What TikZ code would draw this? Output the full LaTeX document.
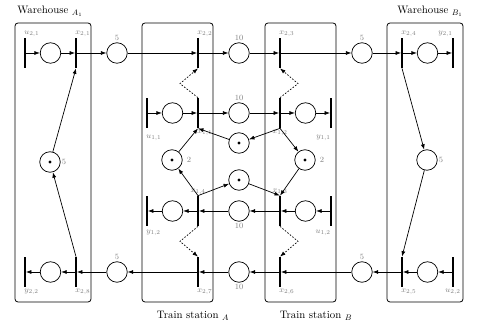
\documentclass[tikz,border=0pt]{standalone}
\usepackage{amssymb}
\usepackage{tikz}
\usetikzlibrary{arrows.meta}

\begin{document}
\begin{tikzpicture}[x=1pt, y=-1pt, node distance = 25.5pt, line width=0.7pt,
    >={Latex[length=5.5pt,width=4pt]},
    place/.style={circle, draw, minimum size=20.5pt, inner sep=0pt},
    marked/.style={path picture={\fill (path picture bounding box.center) circle (1.7pt);}},
    trans/.style={fill, minimum width=1.1pt, minimum height=30pt, inner sep=0pt},
    lab/.style={font=\footnotesize, text=gray, inner sep=1pt},
    ar/.style={lab, anchor=south west, xshift=-2pt},
    al/.style={lab, anchor=south east, xshift=1pt},
    br/.style={lab, anchor=north west, xshift=-2pt},
    bl/.style={lab, anchor=north east, xshift=1pt},
    title/.style={font=\fontsize{10.8pt}{13pt}\selectfont},
    box/.style={draw, rounded corners=3pt, line width=0.8pt},
    signal/.style={->, dash pattern=on 1.6pt off 1.6pt}]
\useasboundingbox (0,0) rectangle (490,328);

% the four sites
\draw[box] (15,23) rectangle (91,302);
\draw[box] (142,23) rectangle (213,302);
\draw[box] (265,23) rectangle (336,302);
\draw[box] (387,23) rectangle (463,302);
\node[title] (ta) at (50,11) {Warehouse $_{A_1}$};
\node[title] (tb) at (430,11) {Warehouse $_{B_1}$};
\node[title] (tsa) at (193,316) {Train station $_A$};
\node[title] (tsb) at (316,316) {Train station $_B$};

% upper track
\node[trans,label={[ar]north:$x_{2,1}$}] (x21) at (76,53) {};
\node[place] (pa1) [left of = x21] {};
\node[trans,label={[ar]north:$u_{2,1}$}] (u21) [left of = pa1] {};
\node[place,label={[lab]above:5}] (q1) at (117,53) {};
\node[trans,label={[ar]north:$x_{2,2}$}] (x22) at (198,53) {};
\node[place,label={[lab]above:10}] (q2) at (239,53) {};
\node[trans,label={[ar]north:$x_{2,3}$}] (x23) at (280,53) {};
\node[place,label={[lab]above:5}] (q3) at (362,53) {};
\node[trans,label={[ar]north:$x_{2,4}$}] (x24) at (402,53) {};
\node[place] (pb1) [right of = x24] {};
\node[trans,label={[al]north:$y_{2,1}$}] (y21) [right of = pb1] {};

% warehouse stocks
\node[place,marked,label={[lab]right:5}] (pa2) at (50,162) {};
\node[place,label={[lab]right:5}] (pb2) at (427,160) {};

% lower track
\node[trans,label={[br]south:$x_{2,8}$}] (x28) at (76,272) {};
\node[place] (pa3) [left of = x28] {};
\node[trans,label={[br]south:$y_{2,2}$}] (y22) [left of = pa3] {};
\node[place,label={[lab]above:5}] (q8) at (117,272) {};
\node[trans,label={[br]south:$x_{2,7}$}] (x27) at (198,272) {};
\node[place,label={[lab]below:10}] (q7) at (239,272) {};
\node[trans,label={[br]south:$x_{2,6}$}] (x26) at (280,272) {};
\node[place,label={[lab]above:5}] (q6) at (362,272) {};
\node[trans,label={[br]south:$x_{2,5}$}] (x25) at (402,272) {};
\node[place] (pb3) [right of = x25] {};
\node[trans,label={[lab]below:$u_{2,2}$}] (u22) [right of = pb3] {};

% line between the stations
\node[trans,label={[br]south:$x_{1,1}$}] (x11) at (198,113) {};
\node[place] (sa1) [left of = x11] {};
\node[trans,label={[br,yshift=-5pt]south:$u_{1,1}$}] (u11) [left of = sa1] {};
\node[place,label={[lab]above:10}] (r1) at (239,113) {};
\node[trans,label={[lab]below:$x_{1,2}$}] (x12) at (280,113) {};
\node[place] (sb1) [right of = x12] {};
\node[trans,label={[bl,yshift=-5pt]south:$y_{1,1}$}] (y11) [right of = sb1] {};

\node[place,marked,label={[lab,label distance=3pt]right:2}] (sa2) at (172,160) {};
\node[place,marked,label={[lab,label distance=3pt]right:2}] (sb2) at (305,160) {};
\node[place,marked] (m1) at (239,143) {};
\node[place,marked] (m2) at (239,180) {};

\node[trans,label={[lab]above:$x_{1,4}$}] (x14) at (198,211) {};
\node[place] (sa3) [left of = x14] {};
\node[trans,label={[br,yshift=-2pt]south:$y_{1,2}$}] (y12) [left of = sa3] {};
\node[place,label={[lab]below:10}] (r2) at (239,211) {};
\node[trans,label={[lab]above:$x_{1,3}$}] (x13) at (280,211) {};
\node[place] (sb3) [right of = x13] {};
\node[trans,label={[bl,yshift=-2pt]south:$u_{1,2}$}] (u12) [right of = sb3] {};

\path[->] (u21) edge (pa1) (pa1) edge (x21) (x21) edge (q1) (q1) edge (x22)
    (x22) edge (q2) (q2) edge (x23) (x23) edge (q3) (q3) edge (x24)
    (x24) edge (pb1) (pb1) edge (y21)
    (pa2) edge (x21.south) (x28.north) edge (pa2)
    (x24.south) edge (pb2) (pb2) edge (x25.north)
    (u22) edge (pb3) (pb3) edge (x25) (x25) edge (q6) (q6) edge (x26)
    (x26) edge (q7) (q7) edge (x27) (x27) edge (q8) (q8) edge (x28)
    (x28) edge (pa3) (pa3) edge (y22);

\path[->] (u11) edge (sa1) (sa1) edge (x11) (x11) edge (r1) (r1) edge (x12)
    (x12) edge (sb1) (sb1) edge (y11)
    (u12) edge (sb3) (sb3) edge (x13) (x13) edge (r2) (r2) edge (x14)
    (x14) edge (sa3) (sa3) edge (y12)
    (sa2) edge (x11.south) (m1) edge (x11.south)
    (x12.south) edge (m1) (x12.south) edge (sb2)
    (sb2) edge (x13.north) (m2) edge (x13.north)
    (x14.north) edge (sa2) (x14.north) edge (m2);

% hand-over to the long haul
\draw[signal] (x11.north) -- ++(-18,-14) -- (x22.south);
\draw[signal] (x12.north) -- ++(18,-14) -- (x23.south);
\draw[signal] (x14.south) -- ++(-18,15) -- (x27.north);
\draw[signal] (x13.south) -- ++(18,15) -- (x26.north);
\end{tikzpicture}
\end{document}
